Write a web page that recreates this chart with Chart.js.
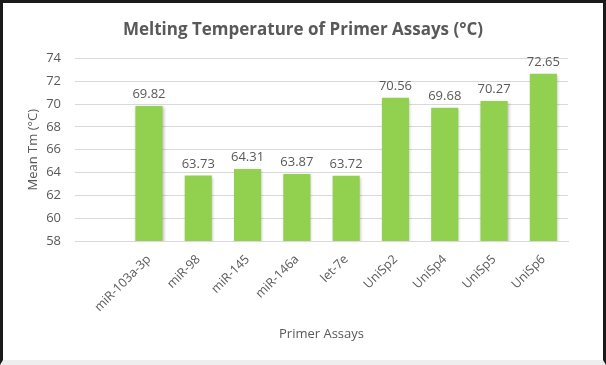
<!DOCTYPE html>
<html lang="en">
  <head>
    <meta charset="UTF-8" />
    <title>Melting Temperature of Primer Assays</title>
    <script src="https://cdn.jsdelivr.net/npm/chart.js@4.4.0/dist/chart.umd.min.js"></script>
    <style>
      body { margin: 0; background: #fff; }
      .wrap { position: relative; width: 606px; height: 365px; }
      .frame {
        position: absolute; left: 0; top: 0; width: 606px; height: 365px;
        box-sizing: border-box; pointer-events: none;
        border-left: 3px solid #1a1a1a; border-top: 3px solid #1a1a1a;
        border-right: 3px solid #1a1a1a; border-bottom: 5px solid #eeeeee;
      }
    </style>
  </head>
  <body>
    <div class="wrap">
      <canvas id="chart" width="606" height="365"></canvas>
      <div class="frame"></div>
    </div>

    <script>
      //data
      const assays = ['', 'miR-103a-3p', 'miR-98', 'miR-145', 'miR-146a', 'let-7e', 'UniSp2', 'UniSp4', 'UniSp5', 'UniSp6'];
      const meanTm = [null, 69.82, 63.73, 64.31, 63.87, 63.72, 70.56, 69.68, 70.27, 72.65];
      const yMin = 58;
      const yMax = 74;
      const yStep = 2;

      const FONT = "'Open Sans', 'Noto Sans', sans-serif";
      const TEXT = '#595959';

      // value labels over each bar
      const valueLabels = {
        id: 'valueLabels',
        afterDatasetsDraw(chart) {
          const ctx = chart.ctx;
          const meta = chart.getDatasetMeta(0);
          ctx.save();
          ctx.font = '13px ' + FONT;
          ctx.fillStyle = TEXT;
          ctx.textAlign = 'center';
          ctx.textBaseline = 'bottom';
          meta.data.forEach((bar, i) => {
            const v = meanTm[i];
            if (v === null) return;
            ctx.fillText(v.toFixed(2), bar.x, bar.y - 5);
          });
          ctx.restore();
        }
      };

      // soft shadow behind the bars
      const barShadow = {
        id: 'barShadow',
        beforeDatasetsDraw(chart) {
          const ctx = chart.ctx;
          ctx.save();
          ctx.shadowColor = 'rgba(0,0,0,0.25)';
          ctx.shadowBlur = 3;
          ctx.shadowOffsetX = 1;
          ctx.shadowOffsetY = 1;
        },
        afterDatasetsDraw(chart) {
          chart.ctx.restore();
        }
      };

      const config = {
        type: 'bar',
        data: {
          labels: assays,
          datasets: [{
            label: 'Mean Tm',
            data: meanTm,
            backgroundColor: '#92d050',
            barPercentage: 0.55,
            categoryPercentage: 1.0
          }]
        },
        options: {
          responsive: false,
          animation: false,
          layout: { padding: { left: 3, right: 3, top: 10, bottom: 8 } },
          plugins: {
            legend: { display: false },
            tooltip: { enabled: false },
            title: {
              display: true,
              text: 'Melting Temperature of Primer Assays (°C)',
              color: TEXT,
              font: { family: FONT, size: 17, weight: 'bold' },
              padding: { top: 10, bottom: 18 }
            }
          },
          scales: {
            x: {
              grid: { display: false },
              border: { color: '#d9d9d9', width: 1 },
              ticks: {
                color: TEXT,
                font: { family: FONT, size: 12.5 },
                minRotation: 45,
                maxRotation: 45,
                autoSkip: false,
                padding: 3
              },
              title: {
                display: true,
                text: 'Primer Assays',
                color: TEXT,
                font: { family: FONT, size: 13 },
                padding: { top: 4, bottom: 15 }
              },
              afterFit(scale) { scale.height = 116; }
            },
            y: {
              min: yMin,
              max: yMax,
              grid: { color: '#d9d9d9', drawTicks: false },
              border: { display: false },
              ticks: {
                stepSize: yStep,
                color: TEXT,
                font: { family: FONT, size: 13 },
                padding: 14
              },
              title: {
                display: true,
                text: 'Mean Tm (°C)',
                color: TEXT,
                font: { family: FONT, size: 13 },
                padding: { top: 22, bottom: 2 }
              },
              afterFit(scale) { scale.width = 72; }
            },
            // empty right-hand spacer so the title centres on the whole frame
            yRight: {
              position: 'right',
              display: true,
              grid: { display: false, drawOnChartArea: false },
              border: { display: false },
              ticks: { display: false },
              afterFit(scale) { scale.width = 35; }
            }
          }
        },
        plugins: [barShadow, valueLabels]
      };

      //init
      const ctx = document.getElementById('chart');
      const chart = new Chart(ctx, config);
    </script>
  </body>
</html>
